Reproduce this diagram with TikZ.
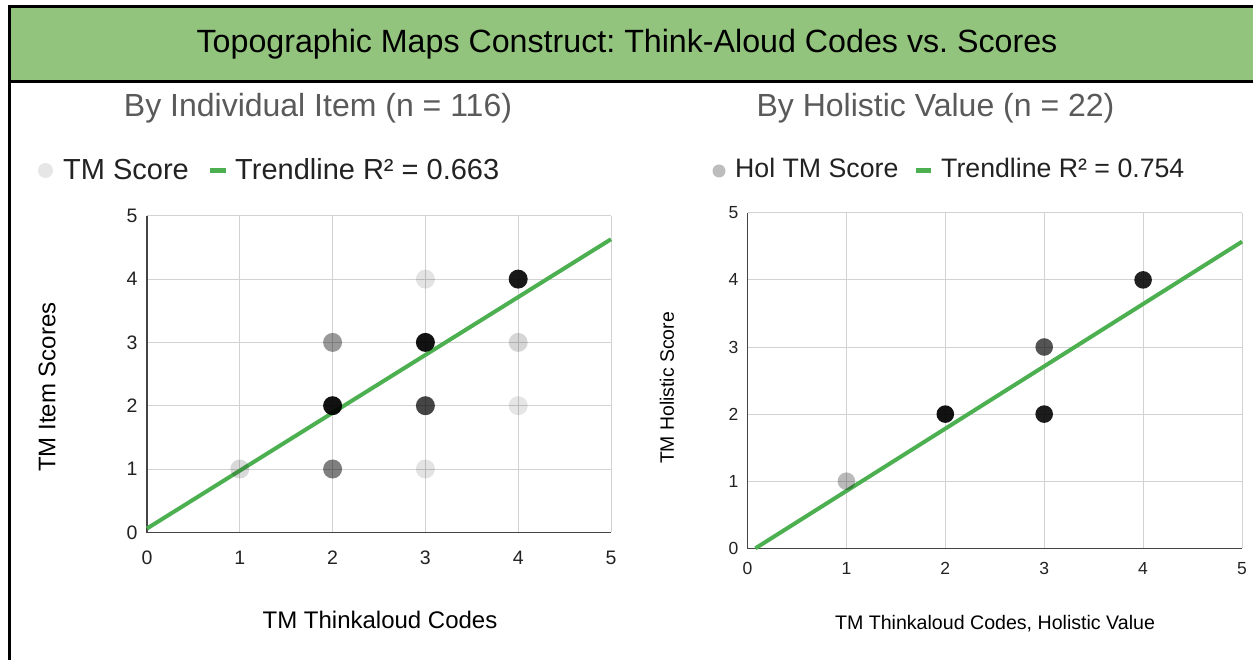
\documentclass[tikz,border=0pt]{standalone}
\usepackage{fontspec}
\setmainfont{Liberation Sans}
\frenchspacing
\definecolor{hdr}{HTML}{93C47D}
\definecolor{trend}{HTML}{4CAF50}
\definecolor{gridc}{HTML}{D2D2D2}
\definecolor{axisc}{HTML}{444444}
\definecolor{ttl}{HTML}{5A5A5A}
\definecolor{txt}{HTML}{222222}
\newcommand{\fsz}[1]{\fontsize{#1}{#1}\selectfont}
\tikzset{
  lbl/.style={inner sep=0pt, text=txt},
  charttitle/.style={inner sep=0pt, text=ttl, font=\fsz{32}, anchor=base},
  gridline/.style={draw=gridc, line width=1pt},
  axisline/.style={draw=axisc, line width=1.3pt},
  trendline/.style={draw=trend, line width=4pt},
  ptl/.style={circle, inner sep=0pt, minimum size=19pt, fill=black},
  ptr/.style={circle, inner sep=0pt, minimum size=17.6pt, fill=black},
  legdot/.style={circle, inner sep=0pt},
}
\begin{document}
\begin{tikzpicture}[x=1pt,y=-1pt]
\useasboundingbox (0,0) rectangle (1253,660);
\fill[white] (0,0) rectangle (1253,660);

% header band and frame
\fill[hdr] (9.5,6.5) rectangle (1253,81.5);
\draw[line width=3pt] (1253,6.5) -- (9.5,6.5) -- (9.5,660);
\draw[line width=3pt] (8,81.5) -- (1253,81.5);
\node[inner sep=0pt, anchor=base, font=\fsz{32.2}] (title) at (627,52.5)
  {Topographic Maps Construct: Think-Aloud Codes vs. Scores};

% ---------- left chart ----------
\node[charttitle] (ltitle) at (318,116.5) {By Individual Item (n = 116)};
\node[legdot, minimum size=15pt, fill={rgb,255:red,230;green,230;blue,230}] (lleg) at (45.5,170.5) {};
\node[lbl, anchor=base west, font=\fsz{29}] (llegt) at (63,180) {TM Score};
\coordinate (lda) at (210,170.5);
\coordinate (ldb) at (226,170.5);
\draw[draw=trend, line width=5pt] (lda) -- (ldb);
\node[lbl, anchor=base west, font=\fsz{29}] (llegr) at (235,180) {Trendline R² = 0.663};

\node[lbl, rotate=90, font=\fsz{24}, text=black] (lyt) at (47,387) {TM Item Scores};
\node[lbl, anchor=base, font=\fsz{24}, text=black] (lxt) at (380,628) {TM Thinkaloud Codes};

\begin{scope}[shift={(147,532.3)}, x=92.8pt, y=63.3pt]
  \foreach \k in {1,...,5} {
    \draw[gridline] (\k,0) -- (\k,5);
    \draw[gridline] (0,\k) -- (5,\k);
  }
  \draw[axisline] (0,5) -- (0,0) -- (5,0);
  \foreach \k in {0,...,5} {
    \node[lbl, font=\fsz{19.5}, yshift=-25.7pt] (lx\k) at (\k,0) {\k};
    \node[lbl, font=\fsz{19.5}, xshift=-15pt] (ly\k) at (0,\k) {\k};
  }
  \coordinate (la) at (0,0.06);
  \coordinate (lb) at (5,4.63);
  \draw[trendline] (la) -- (lb);
  \foreach \px/\py/\op in {1/1/0.15, 2/1/0.5, 2/2/0.93, 2/3/0.4, 3/1/0.11,
                           3/2/0.73, 3/3/0.93, 3/4/0.11, 4/2/0.10, 4/3/0.16, 4/4/0.9}
    \node[ptl, fill opacity=\op] (l\px\py) at (\px,\py) {};
\end{scope}

% ---------- right chart ----------
\node[charttitle] (rtitle) at (935.5,116.5) {By Holistic Value (n = 22)};
\node[legdot, minimum size=13pt, fill={rgb,255:red,189;green,189;blue,189}] (rleg) at (719,171) {};
\node[lbl, anchor=base west, font=\fsz{26.7}] (rlegt) at (735,177.5) {Hol TM Score};
\coordinate (rda) at (916,171);
\coordinate (rdb) at (931,171);
\draw[draw=trend, line width=5pt] (rda) -- (rdb);
\node[lbl, anchor=base west, font=\fsz{26.7}] (rlegr) at (941,177.5) {Trendline R² = 0.754};

\node[lbl, rotate=90, font=\fsz{19.4}, text=black] (ryt) at (667,388) {TM Holistic Score};
\node[lbl, anchor=base, font=\fsz{19.6}, text=black] (rxt) at (995,629) {TM Thinkaloud Codes, Holistic Value};

\begin{scope}[shift={(747.5,548.3)}, x=98.9pt, y=67.1pt]
  \foreach \k in {1,...,5} {
    \draw[gridline] (\k,0) -- (\k,5);
    \draw[gridline] (0,\k) -- (5,\k);
  }
  \draw[axisline] (0,5) -- (0,0) -- (5,0);
  \foreach \k in {0,...,5} {
    \node[lbl, font=\fsz{17.5}, yshift=-20pt] (rx\k) at (\k,0) {\k};
    \node[lbl, font=\fsz{17.5}, xshift=-14pt] (ry\k) at (0,\k) {\k};
  }
  \coordinate (ra) at (0.08,0);
  \coordinate (rb) at (5,4.57);
  \draw[trendline] (ra) -- (rb);
  \foreach \px/\py/\op in {1/1/0.27, 2/2/0.93, 3/2/0.89, 3/3/0.67, 4/4/0.87}
    \node[ptr, fill opacity=\op] (r\px\py) at (\px,\py) {};
\end{scope}
\end{tikzpicture}
\end{document}
